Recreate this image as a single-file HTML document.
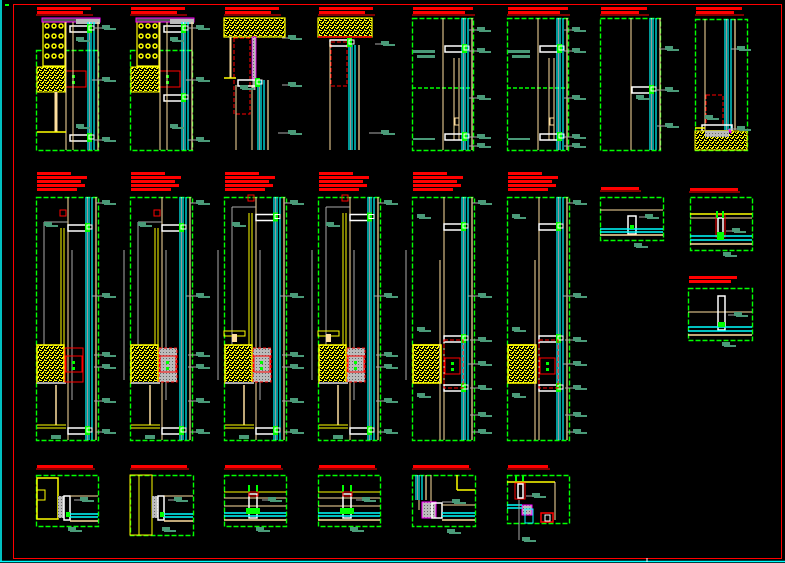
<!DOCTYPE html>
<html><head><meta charset="utf-8"><style>
html,body{margin:0;padding:0;background:#000;}
svg{display:block}
</style></head><body>
<svg id="s" width="785" height="563" viewBox="0 0 785 563" xmlns="http://www.w3.org/2000/svg" font-family="Liberation Sans, sans-serif">
<defs>
<pattern id="conc" width="5" height="5" patternUnits="userSpaceOnUse">
<rect width="5" height="5" fill="#000"/>
<rect x="0" y="0" width="2" height="1" fill="#ff0"/><rect x="3" y="1" width="1" height="2" fill="#ff0"/>
<rect x="1" y="3" width="2" height="1" fill="#ff0"/><rect x="4" y="4" width="1" height="1" fill="#ff0"/>
<rect x="4" y="0" width="1" height="1" fill="#ff0"/><rect x="0" y="2" width="1" height="1" fill="#ff0"/>
<rect x="2" y="2" width="1" height="1" fill="#ff0"/>
</pattern>
<pattern id="grey" width="3" height="3" patternUnits="userSpaceOnUse">
<rect width="3" height="3" fill="#bbb"/><rect x="1" y="1" width="1" height="1" fill="#666"/>
</pattern>
</defs>
<rect x="0" y="0" width="785" height="563" fill="#000"/>
<line x1="1" y1="0" x2="1" y2="562" stroke="#0ff" stroke-width="1.5"/>
<line x1="0" y1="561.5" x2="785" y2="561.5" stroke="#0ff" stroke-width="1.5"/>
<rect x="13.5" y="4.5" width="768" height="554" fill="none" stroke="#f00" stroke-width="1"/>
<line x1="647" y1="558" x2="647" y2="562" stroke="#fff"/>
<line x1="5" y1="5" x2="9" y2="5" stroke="#0f0" stroke-width="2"/>
<g id="g"></g>
</svg>
<script>
const g=document.getElementById('g');let h='';
const G='#00ff00',C='#00ffff',T='#ffe0a0',W='#ffffff',R='#ff0000',Y='#ffff00',L='#4a9a78',M='#ff00ff',Gr='#aaaaaa';
function ln(a,b,c,d,col,w,da){h+=`<line x1="${a}" y1="${b}" x2="${c}" y2="${d}" stroke="${col}" stroke-width="${w||1}"${da?` stroke-dasharray="${da}"`:''}/>`;}
function rc(x,y,w,hh,col,fill,sw,da){h+=`<rect x="${x}" y="${y}" width="${w}" height="${hh}" fill="${fill||'none'}" stroke="${col||'none'}" stroke-width="${sw||1}"${da?` stroke-dasharray="${da}"`:''}/>`;}
function dbox(x,y,w,hh){rc(x+.5,y+.5,w,hh,G,'none',1.4,'5 2');}
function title(x,y,w,lines){for(let i=0;i<lines;i++){rc(x,y+i*4,w-(i%2)*8,3,null,R);}
 h+=`<text x="${x}" y="${y+3}" font-size="3" fill="${R}">DETALLE SECCION</text>`; ln(x-1,y+lines*4,x+w+2,y+lines*4,R,1);}
function label(x,y,lead){ if(lead) ln(x-lead,y,x,y,Gr,1); rc(x,y-3,8,4,null,L); rc(x+2,y,12,2,null,L);}
function glass(x,y1,y2){ln(x,y1,x,y2,C,1.2);ln(x+3,y1,x+3,y2,C,1.2);ln(x+6,y1,x+6,y2,C,1.2);ln(x+1.5,y1,x+1.5,y2,W,.6);ln(x+10,y1,x+10,y2,T,1.2);}
function mull(x,y){rc(x,y,18,6,W,'none',1.5);rc(x+17,y-2,5,9,null,G);rc(x+19,y,5,4,W,'none',1);}
const r1=[36,130,224,318,412,507,600,695];
r1.forEach((x,i)=>{title(x+1,7,i<4?54:i<6?60:46,2);});
[36,130].forEach((x,k)=>{
 dbox(x,50,62,100);
 rc(x+7,22,22,44,Y,'#000',1.2);
 for(let j=0;j<4;j++)for(let c=0;c<3;c++){h+=`<circle cx="${x+11+c*7}" cy="${26+j*10}" r="2" fill="none" stroke="${Y}" stroke-width="1.5"/>`;}
 rc(x+1,67,28,25,Y,'url(#conc)',1);
 rc(x+30,71,20,16,R,'none',1);rc(x+36,75,3,3,null,G);rc(x+36,81,3,3,null,G);
 rc(x+6,18,58,4,M,'#555',1);rc(x+40,19,24,5,null,'#bbb');
 glass(x+52,22,150);
 mull(x+34,26);mull(x+34,k?95:135);
 ln(x+30,22,x+30,150,T,1);ln(x+37,22,x+37,150,T,1);
 if(!k){ln(x+20,92,x+20,132,T,3);ln(x+1,132,x+30,132,Y,1.5);}
 label(x+66,28,8);label(x+66,80,10);label(x+66,140,8);label(x+40,40,0);label(x+40,127,0);
});
{let x=224;rc(x,18,61,19,Y,'url(#conc)',1.2);dbox(x,37,0,8);rc(x+6,37,1,40,T,'none',1);
 rc(x+10,38,16,76,R,'none',1,'4 2');ln(x+30,37,x+30,90,Gr,3);rc(x+28,37,4,42,M,'url(#grey)',.8);
 glass(x+34,80,150);mull(x+14,80);ln(x,78,x+12,78,Y,1.5);ln(x+12,85,x+12,150,T,1);ln(x+28,85,x+28,150,T,1);
 label(x+64,38,6);label(x+64,85,6);label(x+64,133,10);label(x+16,88,0);dbox(x,150,61,0);}
{let x=318;rc(x,18,54,19,Y,'url(#conc)',1.2);ln(x,37,x+54,37,R,1.5);
 rc(x+13,42,16,44,R,'none',1,'4 2');glass(x+31,45,150);mull(x+12,40);ln(x+12,42,x+12,150,T,1);
 label(x+63,44,6);label(x+63,133,12);dbox(x,150,54,0);}
[412,507].forEach(x=>{dbox(x,18,61,132);ln(x,88,x+61,88,G,1.5,'4 2');
 glass(x+50,18,150);ln(x+31,18,x+31,150,T,1);ln(x+42,58,x+42,140,T,1);ln(x+47,58,x+47,140,T,1);
 mull(x+33,46);mull(x+33,134);rc(x+43,118,4,7,T,'none',1);
 label(x+65,30,8);label(x+65,51,8);label(x+65,98,8);label(x+65,137,8);label(x+65,146,8);
 rc(x+1,50,22,3,null,L);rc(x+5,55,18,3,null,L);rc(x+1,138,22,2,null,L);});
{let x=600;dbox(x,18,60,132);glass(x+50,18,150);ln(x+31,18,x+31,150,T,1);mull(x+32,87);
 label(x+65,49,6);label(x+65,90,8);label(x+65,126,8);label(x+36,98,0);}
{let x=695;dbox(x,19,52,131);glass(x+30,19,130);ln(x+10,19,x+10,130,T,1);
 rc(x+11,95,17,30,R,'none',1,'4 2');rc(x+7,125,30,6,W,'none',1.5);rc(x,131,52,19,Y,'url(#conc)',1);
 rc(x+10,131,24,6,null,'url(#grey)');ln(x,128,x+10,128,Y,1.5);ln(x+34,129,x+36,133,M,2);
 label(x+42,49,6);label(x+42,129,8);label(x+10,118,0);}
const r2=[36,130,224,318,412,507];
r2.forEach((x,i)=>{const ws=[34,50,44,48,40];for(let j=0;j<5;j++)rc(x+1,172+j*4,ws[j],3,null,R);
 dbox(x,197,62,243);glass(x+50,197,440);ln(x+32,197,x+32,440,T,1);
 label(x+66,203,6);label(x+66,296,10);label(x+66,432,6);
 if(i<4){
  let off=i>=2?-15:0;
  mull(x+32,225+off*0.7);mull(x+32,428);
  ln(x+25,228+off,x+25,345,Y,1);ln(x+28,228+off,x+28,345,Y,1);rc(x+24,210+off,6,6,R,'none',1);
  ln(x+8,222+off,x+8,345,Gr,1);ln(x+8,222+off,x+32,222+off,Gr,1);
  ln(x+36,250,x+36,400,Gr,1);ln(x+88,250,x+88,380,Gr,1);
  rc(x+1,345,27,38,Y,'url(#conc)',1.5);ln(x+1,383,x+30,383,Gr,2);
  rc(x+29,348,18,34,R,i?'url(#grey)':'none',1,i?'3 2':'');rc(x+30,356,16,16,R,'none',1);
  rc(x+36,361,3,3,null,G);rc(x+36,367,3,3,null,G);
  ln(x+20,385,x+20,425,T,1.5);ln(x+1,425,x+30,425,Y,1);ln(x+1,428,x+30,428,Y,1);
  if(i>=2){rc(x,331,21,5,Y,'none',1);rc(x+8,334,5,8,null,T);}
  label(x+66,355,8);label(x+66,367,8);label(x+66,401,8);label(x+8,225,0);rc(x+15,435,10,4,null,L);
 } else {
  mull(x+32,224);mull(x+32,336);mull(x+32,385);
  rc(x+1,345,28,38,Y,'url(#conc)',1.5);ln(x+1,345,x+29,345,Y,1.5);
  rc(x+32,340,19,48,R,'none',1,'4 2');rc(x+33,358,15,16,R,'none',1);rc(x+39,362,3,3,null,G);rc(x+39,368,3,3,null,G);
  ln(x+28,260,x+28,440,T,1);
  label(x+66,340,8);label(x+66,364,10);label(x+66,388,8);label(x+66,415,8);label(x+5,217,0);label(x+5,330,0);label(x+5,396,0);
 }
});
{title(601,187,38,1);dbox(600,197,63,43);ln(600,210,663,210,T,1);rc(628,216,8,18,W,'none',1.5);
 ln(600,229,663,229,C,1.5);ln(600,232,663,232,C,1.5);ln(600,235,663,235,T,1.5);rc(630,225,4,4,null,G);label(645,217,6);label(634,246,0);}
{title(690,188,48,1);dbox(690,197,62,53);ln(690,214,752,214,Y,1.5);ln(690,218,752,218,T,1);
 rc(716,215,9,22,R,'none',1);rc(718,218,5,16,W,'none',1.5);rc(716,211,2,7,null,G);rc(722,211,2,7,null,G);
 ln(690,236,752,236,C,1.5);ln(690,240,752,240,C,1.5);ln(690,244,752,244,T,1.5);rc(717,232,7,8,null,G);label(732,231,6);label(723,255,0);}
{for(let j=0;j<2;j++)rc(689,276+j*4,j?42:48,3,null,R);dbox(688,288,64,52);ln(688,312,752,312,T,1);
 rc(718,296,7,34,W,'none',1.5);ln(688,327,752,327,C,1.5);ln(688,331,752,331,C,1.5);ln(688,335,752,335,T,1.5);
 rc(718,322,7,5,null,G);label(734,315,6);label(722,345,0);}
const r3=[36,130,224,318,412,507];
r3.forEach((x,i)=>{title(x+1,465,(i==5?40:56),1);});
{let x=36;dbox(x,475,62,51);rc(x+1,478,21,41,Y,'none',1.5);rc(x+1,490,8,10,Y,'none',1);
 rc(x+22,496,6,22,null,'url(#grey)');rc(x+28,496,6,24,W,'none',1.5);ln(x+34,496,x+62,496,T,1);
 ln(x+34,514,x+62,514,C,1.5);ln(x+34,517,x+62,517,C,1.5);ln(x+34,521,x+62,521,T,1.5);rc(x+30,512,4,5,null,G);label(x+44,500,6);label(x+32,530,0);}
{let x=130;dbox(x,475,63,60);rc(x,475,22,60,Y,'none',1);ln(x+9,475,x+9,535,Y,1);
 rc(x+22,496,6,22,null,'url(#grey)');rc(x+28,496,6,24,W,'none',1.5);ln(x+34,496,x+63,496,T,1);
 ln(x+34,514,x+63,514,C,1.5);ln(x+34,517,x+63,517,C,1.5);ln(x+34,521,x+63,521,T,1.5);rc(x+30,512,4,5,null,G);label(x+44,500,6);label(x+32,530,0);}
[224,318].forEach((x,k)=>{dbox(x,475,62,51);ln(x,492,x+62,492,Y,1);ln(x,498,x+62,498,T,1);ln(x,506,x+62,506,T,1);
 rc(x+25,494,8,24,W,'none',1.5);rc(x+24,485,2,7,null,G);rc(x+32,485,2,7,null,G);rc(x+25,492,9,4,R,'none',1);
 ln(x,513,x+62,513,C,1.5);ln(x,516,x+62,516,C,1.5);ln(x,520,x+62,520,T,1.5);rc(x+22,508,14,6,null,G);label(x+44,500,6);label(x+32,530,0);});
{let x=412;dbox(x,475,63,51);ln(x+7,475,x+7,510,T,1);glass(x+4,475,500);ln(x+19,475,x+19,510,T,1);
 ln(x+45,475,x+45,490,Y,1.5);ln(x+45,490,x+63,490,Y,1.5);rc(x+10,502,14,16,M,'url(#grey)',1);rc(x+20,503,10,15,W,'none',1.5);
 ln(x+30,505,x+63,505,T,1);ln(x+30,513,x+63,513,C,1.5);ln(x+30,516,x+63,516,C,1.5);ln(x+30,520,x+63,520,T,1.5);label(x+40,502,10);label(x+35,532,0);}
{let x=507;dbox(x,475,62,48);ln(x,482,x+48,482,Y,1.5);ln(x+48,482,x+48,520,T,1);
 rc(x+8,483,10,16,R,'none',1);rc(x+11,484,5,14,W,'none',1.5);rc(x+8,475,2,6,null,G);rc(x+15,475,2,6,null,G);
 rc(x+15,505,10,10,M,'url(#grey)',1);rc(x+18,509,8,14,C,'none',1);rc(x+34,513,12,9,R,'none',1.5);rc(x+38,515,5,6,W,'none',1);
 ln(x,505,x+15,505,C,1.5);ln(x,508,x+15,508,C,1.5);ln(x+12,500,x+12,540,Gr,1);label(x+15,540,0);label(x+25,496,6);}
g.innerHTML=h;
</script>
</body></html>
